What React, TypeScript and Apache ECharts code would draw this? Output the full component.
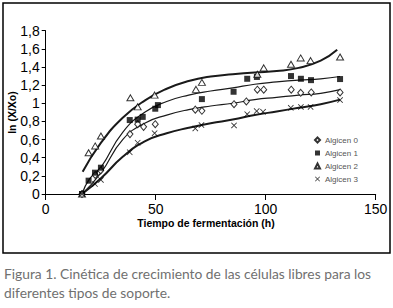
import React, { useEffect, useRef } from "react";
import * as echarts from "echarts";

// Scatter observations: [time (h), ln(X/Xo)]
const algicen0: [number, number][] = [
  [16.5, 0], [22.5, 0.21], [25, 0.26], [38.3, 0.66], [41.8, 0.77], [44.5, 0.74],
  [49.8, 0.77], [68, 0.93], [71, 0.917], [85.6, 0.99], [91.2, 1.02], [96.2, 1.15],
  [99.1, 1.15], [111.6, 1.15], [115.9, 1.115], [120.7, 1.12], [133.8, 1.12],
];
const algicen1: [number, number][] = [
  [16.5, 0], [19.5, 0.147], [22.4, 0.235], [25.1, 0.29], [38.2, 0.815], [41.8, 0.82],
  [44.1, 0.85], [49.8, 0.94], [51, 0.98], [71, 1.046], [85.4, 1.127], [91.6, 1.27],
  [96, 1.29], [111.5, 1.3], [116, 1.27], [120.6, 1.255], [133.8, 1.267],
];
const algicen2: [number, number][] = [
  [16.5, 0], [19.5, 0.455], [22.5, 0.53], [25.1, 0.64], [38.5, 1.06], [41.8, 0.96],
  [49.5, 1.09], [68.3, 1.153], [71, 1.23], [96.2, 1.32], [99.1, 1.39], [111.5, 1.43],
  [115.9, 1.5], [120.4, 1.47], [133.8, 1.51],
];
const algicen3: [number, number][] = [
  [16.5, 0], [22.4, 0.11], [25.1, 0.155], [38.2, 0.46], [41.8, 0.565], [49.5, 0.67],
  [68, 0.723], [70.8, 0.76], [85.6, 0.756], [91.6, 0.88], [95.9, 0.914], [98.8, 0.906],
  [111.4, 0.95], [116, 0.96], [120.4, 0.96], [133.8, 1.035],
];

// Trend curves
const fit0: [number, number][] = [
  [16.5, 0], [25, 0.23], [35, 0.6], [45, 0.78], [55, 0.87], [65, 0.93], [75, 0.97],
  [85, 1.0], [95, 1.04], [105, 1.065], [115, 1.09], [125, 1.11], [133.8, 1.15],
];
const fit1: [number, number][] = [
  [16.5, 0], [20, 0.17], [25, 0.29], [35, 0.68], [45, 0.9], [55, 1.02], [65, 1.09],
  [75, 1.135], [85, 1.17], [95, 1.21], [105, 1.235], [115, 1.255], [125, 1.27], [133.8, 1.295],
];
const fit2: [number, number][] = [
  [16.8, 0.245], [25, 0.56], [35, 0.84], [45, 1.03], [55, 1.16], [65, 1.245], [75, 1.295],
  [85, 1.32], [95, 1.34], [105, 1.355], [115, 1.39], [125, 1.47], [132.5, 1.59],
];
const fit3: [number, number][] = [
  [16.5, 0], [25, 0.17], [35, 0.41], [45, 0.58], [55, 0.67], [65, 0.73], [75, 0.78],
  [85, 0.82], [95, 0.87], [105, 0.91], [115, 0.95], [125, 0.99], [133.8, 1.04],
];

const seriesNames = ["Algicen 0", "Algicen 1", "Algicen 2", "Algicen 3"];
const yTickLabels = ["0", "0,2", "0,4", "0,6", "0,8", "1", "1,2", "1,4", "1,6", "1,8"];
const xAxisTitle = "Tiempo de fermentación (h)";
const yAxisTitle = "ln (X/Xo)";
const captionLines = [
  "Figura 1. Cinética de crecimiento de las células libres para los",
  "diferentes tipos de soporte.",
];

const X_SYMBOL =
  "path://M0,1 L1,0 L5,4 L9,0 L10,1 L6,5 L10,9 L9,10 L5,6 L1,10 L0,9 L4,5 Z";

export default function App() {
  const ref = useRef<HTMLDivElement>(null);
  useEffect(() => {
    if (!ref.current) return;
    const chart = echarts.init(ref.current, null, { renderer: "svg" });
    const font = "Liberation Sans";
    const lineSeries = (name: string, data: [number, number][], width: number) => ({
      name,
      type: "line",
      data,
      smooth: 0.5,
      showSymbol: false,
      symbol: "none",
      lineStyle: { color: "#1a1a1a", width },
      z: 2,
      silent: true,
    });
    const captionStyle = {
      fontSize: 13.8,
      fontFamily: "Lato",
      fill: "#707070",
      align: "left",
      verticalAlign: "middle",
    };
    chart.setOption({
      animation: false,
      backgroundColor: "#ffffff",
      grid: { left: 45.7, right: 17.3, top: 30.7, bottom: 114 },
      legend: {
        data: seriesNames,
        orient: "vertical",
        left: 309,
        top: 131,
        itemWidth: 5,
        itemHeight: 5,
        itemGap: 5,
        textStyle: { fontSize: 8, color: "#555", fontFamily: font },
        selectedMode: false,
      },
      xAxis: {
        type: "value",
        min: 0,
        max: 150,
        interval: 50,
        axisLine: { show: true, lineStyle: { color: "#000", width: 1 } },
        axisTick: { show: true, length: 6, lineStyle: { color: "#000" } },
        axisLabel: { fontSize: 14, color: "#000", fontFamily: font, margin: 8 },
        splitLine: { show: false },
      },
      yAxis: {
        type: "value",
        min: 0,
        max: 1.8,
        interval: 0.2,
        axisLine: { show: true, lineStyle: { color: "#000", width: 1 } },
        axisTick: { show: true, length: 4, lineStyle: { color: "#000" } },
        axisLabel: {
          fontSize: 14,
          color: "#000",
          fontFamily: font,
          margin: 6,
          formatter: (v: number) => yTickLabels[Math.round(v / 0.2)] ?? "",
        },
        splitLine: { show: false },
      },
      series: [
        lineSeries("fit0", fit0, 1.2),
        lineSeries("fit1", fit1, 1.2),
        lineSeries("fit2", fit2, 2),
        lineSeries("fit3", fit3, 2),
        {
          name: seriesNames[0],
          type: "scatter",
          data: algicen0,
          symbol: "diamond",
          symbolSize: [6, 7],
          itemStyle: { color: "#fff", borderColor: "#000", borderWidth: 1 },
          z: 5,
        },
        {
          name: seriesNames[1],
          type: "scatter",
          data: algicen1,
          symbol: "rect",
          symbolSize: 6,
          itemStyle: { color: "#000" },
          z: 5,
        },
        {
          name: seriesNames[2],
          type: "scatter",
          data: algicen2,
          symbol: "triangle",
          symbolSize: [7, 6],
          itemStyle: { color: "#fff", borderColor: "#000", borderWidth: 1 },
          z: 5,
        },
        {
          name: seriesNames[3],
          type: "scatter",
          data: algicen3,
          symbol: X_SYMBOL,
          symbolSize: 6,
          itemStyle: { color: "#000" },
          z: 5,
        },
      ],
      graphic: [
        {
          type: "rect",
          shape: { x: 3, y: 3, width: 387, height: 250 },
          style: { fill: "none", stroke: "#000", lineWidth: 1.5 },
          silent: true,
        },
        {
          type: "text",
          x: 206,
          y: 222.7,
          style: {
            text: xAxisTitle,
            fontSize: 10.5,
            fontWeight: "bold",
            fontFamily: font,
            fill: "#000",
            align: "center",
            verticalAlign: "middle",
          },
        },
        {
          type: "text",
          x: 12.3,
          y: 112.5,
          rotation: Math.PI / 2,
          style: {
            text: yAxisTitle,
            fontSize: 10.5,
            fontWeight: "bold",
            fontFamily: font,
            fill: "#000",
            align: "center",
            verticalAlign: "middle",
          },
        },
        { type: "text", x: 4, y: 273, style: { ...captionStyle, text: captionLines[0] } },
        { type: "text", x: 4, y: 292, style: { ...captionStyle, text: captionLines[1] } },
      ],
    });
    return () => chart.dispose();
  }, []);
  return (
    <div style={{ position: "fixed", left: 0, top: 0, width: 393, height: 308, background: "#fff" }}>
      <div ref={ref} style={{ width: 393, height: 308 }} />
    </div>
  );
}
